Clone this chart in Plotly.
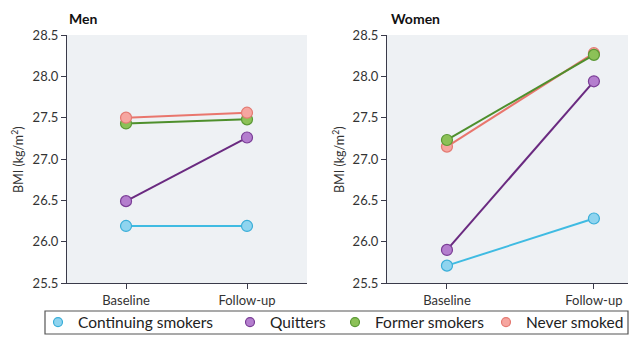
import plotly.graph_objects as go
from plotly.subplots import make_subplots

timepoints = ["Baseline", "Follow-up"]
groups = ["Continuing smokers", "Quitters", "Former smokers", "Never smoked"]
men = {
    "Continuing smokers": [26.19, 26.19],
    "Quitters": [26.49, 27.26],
    "Former smokers": [27.43, 27.48],
    "Never smoked": [27.50, 27.56],
}
women = {
    "Continuing smokers": [25.71, 26.28],
    "Quitters": [25.90, 27.94],
    "Former smokers": [27.23, 28.26],
    "Never smoked": [27.15, 28.28],
}
y_ticks = [25.5, 26.0, 26.5, 27.0, 27.5, 28.0, 28.5]
panel_titles = ["Men", "Women"]

line_col = {"Continuing smokers": "#3fbbe2", "Quitters": "#6a2a80",
            "Former smokers": "#4e8f2c", "Never smoked": "#e9766d"}
fill_col = {"Continuing smokers": "#8fd4ef", "Quitters": "#b47ece",
            "Former smokers": "#8cc157", "Never smoked": "#f6a6a0"}
edge_col = {"Continuing smokers": "#3aaed8", "Quitters": "#7a3d96",
            "Former smokers": "#5a9834", "Never smoked": "#e47a72"}
# left edge (px) of each legend entry
legend_left_px = [38, 230, 335, 486]

FONT = "Lato"
W, H = 640, 341

fig = make_subplots(rows=1, cols=2)

orders = [
    ["Continuing smokers", "Quitters", "Former smokers", "Never smoked"],
    ["Continuing smokers", "Quitters", "Never smoked", "Former smokers"],
]
for ci, data in enumerate([men, women]):
    for g in orders[ci]:
        fig.add_trace(go.Scatter(
            x=timepoints, y=data[g], mode="lines+markers", showlegend=False,
            line=dict(color=line_col[g], width=2),
            marker=dict(size=11, color=fill_col[g], line=dict(color=edge_col[g], width=1.2)),
            hoverinfo="skip"), row=1, col=ci + 1)

legend_ids = ["legend", "legend2", "legend3", "legend4"]
for g, lid in zip(groups, legend_ids):
    fig.add_trace(go.Scatter(
        x=[None], y=[None], mode="markers", name=g, legend=lid,
        marker=dict(size=9, color=fill_col[g], line=dict(color=edge_col[g], width=1.2))),
        row=1, col=1)

def px_x(p):
    return p / W

def px_y(p):
    return 1 - p / H

axis_common = dict(showgrid=False, zeroline=False, showline=True, linecolor="#3a3a4a",
                   linewidth=1.2, ticks="outside", ticklen=5, tickcolor="#3a3a4a",
                   tickfont=dict(family=FONT, size=13, color="#333333"))

fig.update_xaxes(**axis_common)
fig.update_yaxes(**axis_common)
fig.update_yaxes(range=[25.5, 28.5], tickvals=y_ticks,
                 ticktext=[f"{v:.1f}" for v in y_ticks])

fig.update_layout(
    xaxis=dict(domain=[px_x(67), px_x(307)], range=[-0.488, 1.496]),
    xaxis2=dict(domain=[px_x(387), px_x(628)], range=[-0.408, 1.232]),
    yaxis=dict(domain=[px_y(283), px_y(35)]),
    yaxis2=dict(domain=[px_y(283), px_y(35)]),
)

annotations = []
for title, x0 in zip(panel_titles, [67, 389]):
    annotations.append(dict(text=f"<b>{title}</b>", x=px_x(x0), y=px_y(19), xref="paper", yref="paper",
                            xanchor="left", yanchor="middle", showarrow=False,
                            font=dict(family=FONT, size=14, color="#111111")))
for x0 in [17, 338]:
    annotations.append(dict(text="BMI (kg/m<sup>2</sup>)", x=px_x(x0), y=px_y(160), xref="paper", yref="paper",
                            xanchor="center", yanchor="middle", showarrow=False, textangle=-90,
                            font=dict(family=FONT, size=12.5, color="#333333")))

legend_style = dict(orientation="h", xanchor="left", y=px_y(322.5), yanchor="middle",
                    font=dict(family=FONT, size=15.5, color="#222222"), bgcolor="rgba(0,0,0,0)",
                    itemclick=False, itemdoubleclick=False)
legend_layout = {lid: dict(x=px_x(xl), **legend_style) for lid, xl in zip(legend_ids, legend_left_px)}

fig.update_layout(
    width=W, height=H, margin=dict(l=0, r=0, t=0, b=0, autoexpand=False),
    paper_bgcolor="white", plot_bgcolor="#eef1f4",
    annotations=annotations,
    shapes=[dict(type="rect", xref="paper", yref="paper", x0=px_x(45), x1=px_x(628),
                 y0=px_y(334), y1=px_y(311), line=dict(color="#555555", width=1.2))],
    showlegend=True,
    **legend_layout,
)

fig.write_html("out.html")
